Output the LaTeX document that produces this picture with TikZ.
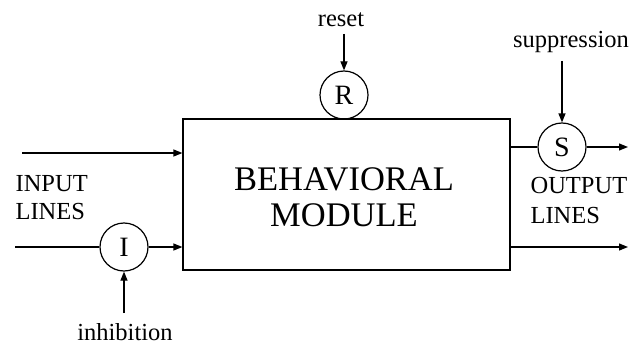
\documentclass[tikz,border=0pt]{standalone}
\usepackage{fontspec}
\setmainfont{Liberation Serif}
\usetikzlibrary{arrows.meta}
\begin{document}
\begin{tikzpicture}[x=1pt,y=-1pt,line width=1.2pt,
  >={Triangle[length=9pt,width=7pt]},
  gate/.style={draw,circle,minimum size=48pt,inner sep=0pt,font=\fontsize{28}{28}\selectfont},
  lbl/.style={inner sep=0pt,font=\fontsize{24.5}{28}\selectfont}]
\useasboundingbox (0,0) rectangle (629,345);
% module and its label
\node[draw,minimum width=327pt,minimum height=151pt,inner sep=0pt] (mod) at (346.5,194.5) {};
\node[inner sep=0pt,align=center,font=\fontsize{34.5}{36}\selectfont] (modtxt) at (344,197) {BEHAVIORAL\\MODULE};
% gates
\node[gate] (R) at (344,95) {R};
\node[gate] (S) at (562,147) {S};
\node[gate] (I) at (124,247) {I};
% labels
\node[lbl] (reset) at (341,20) {reset};
\node[lbl] (supp) at (571,42) {suppression};
\node[lbl] (inhib) at (125,332) {inhibition};
\node[lbl,anchor=base west] (inl1) at (15,191) {INPUT};
\node[lbl,anchor=base west] (inl2) at (15,219) {LINES};
\node[lbl,anchor=base west] (outl1) at (530,193) {OUTPUT};
\node[lbl,anchor=base west] (outl2) at (530,223) {LINES};
% free ends
\coordinate (in1) at (22,153);
\coordinate (in2) at (15,247);
\coordinate (out1) at (628,147);
\coordinate (out2) at (628,247);
\coordinate (rs) at (344,34);
\coordinate (ss) at (562,61);
\coordinate (ih) at (124,313);
% connectors
\draw[->] (in1) -- (mod.west |- in1);
\draw (in2) -- (I.west);
\draw[->] (I.east) -- (mod.west |- I);
\draw[->] (ih) -- (I.south);
\draw[->] (rs) -- (R.north);
\draw[->] (ss) -- (S.north);
\draw (mod.east |- S) -- (S.west);
\draw[->] (S.east) -- (out1);
\draw[->] (mod.east |- out2) -- (out2);
\end{tikzpicture}
\end{document}
